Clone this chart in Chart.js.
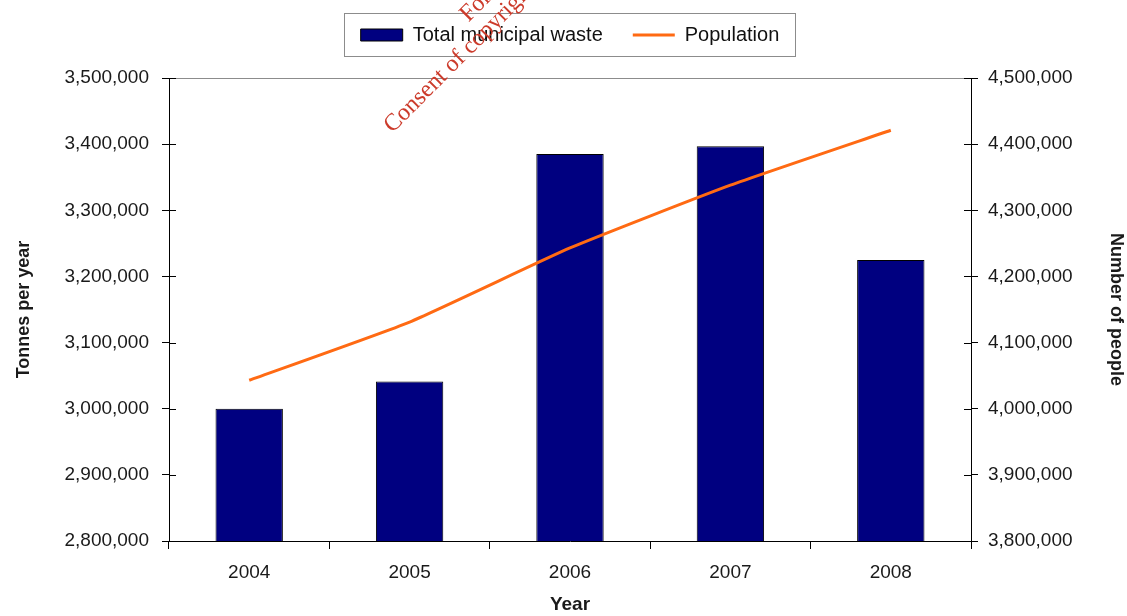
<!DOCTYPE html>
<html>
<head>
<meta charset="utf-8">
<script src="https://cdn.jsdelivr.net/npm/chart.js@4/dist/chart.umd.min.js"></script>
<style>
  html, body { margin: 0; padding: 0; background: #fff; }
  #wrap { width: 1127px; height: 616px; }
</style>
</head>
<body>
<div id="wrap"><canvas id="chart"></canvas></div>
<script>
/* Data */

const years = ['2004', '2005', '2006', '2007', '2008']
const wasteTonnes = [3000000, 3041000, 3385000, 3397000, 3225000]
const population = [4043000, 4131000, 4243000, 4338000, 4421000]

const wasteTicks = [2800000, 3500000, 100000]   // min, max, step
const peopleTicks = [3800000, 4500000, 100000]

const fmt = v => Number(v).toLocaleString('en-US')

/* Plugins */

// box round the legend + top border of the plot area
const frame = {
  id: 'frame',
  afterDraw(chart) {
    const ctx = chart.ctx
    const area = chart.chartArea
    const boxes = chart.legend.legendHitBoxes

    ctx.save()
    ctx.strokeStyle = '#8c8c8c'
    ctx.lineWidth = 1
    ctx.beginPath()
    ctx.moveTo(area.left, area.top + 0.5)
    ctx.lineTo(area.right, area.top + 0.5)
    ctx.stroke()

    if (boxes.length) {
      const first = boxes[0]
      const last = boxes[boxes.length - 1]
      const x1 = first.left - 17
      const x2 = last.left + last.width + 15
      const y1 = first.top - 12
      const y2 = first.top + first.height + 11
      ctx.strokeRect(Math.round(x1) + 0.5, Math.round(y1) + 0.5, Math.round(x2 - x1), Math.round(y2 - y1))
    }

    // inner half of the y ticks (they cross the axis)
    ctx.strokeStyle = '#000'
    ;['y', 'y1'].forEach(id => {
      const scale = chart.scales[id]
      const x = id === 'y' ? area.left : area.right
      const dir = id === 'y' ? 1 : -1
      scale.ticks.forEach((t, i) => {
        const y = Math.round(scale.getPixelForTick(i)) + 0.5
        ctx.beginPath()
        ctx.moveTo(x, y)
        ctx.lineTo(x + dir * 7, y)
        ctx.stroke()
      })
    })
    ctx.restore()
  }
}

// watermark from the scanned page
const watermark = {
  id: 'watermark',
  afterDraw(chart) {
    const ctx = chart.ctx
    ctx.save()
    ctx.fillStyle = '#cc3b2b'
    ctx.font = '24px "Liberation Serif"'
    ctx.translate(388, 129)
    ctx.rotate(-Math.PI / 4)
    ctx.fillText('Consent of copyright owner required for any other use.', 0, 0)
    ctx.restore()

    ctx.save()
    ctx.fillStyle = '#cc3b2b'
    ctx.font = '24px "Liberation Serif"'
    ctx.translate(464, 18)
    ctx.rotate(-Math.PI / 4)
    ctx.fillText('For inspection purposes only.', 0, 0)
    ctx.restore()
  }
}

/* Chart */

Chart.defaults.font.family = '"Liberation Sans", Arial, sans-serif'
Chart.defaults.color = '#1a1a1a'

const ctx = document.querySelector('#chart').getContext('2d')
const wasteChart = new Chart(ctx, {
  type: 'bar',
  data: {
    labels: years,
    datasets: [{
      type: 'bar',
      label: 'Total municipal waste',
      data: wasteTonnes,
      yAxisID: 'y',
      backgroundColor: '#000080',
      borderColor: '#000',
      borderWidth: 1,
      barPercentage: 0.42,
      categoryPercentage: 1,
      pointStyle: 'rect',
      order: 1
    }, {
      type: 'line',
      label: 'Population',
      data: population,
      yAxisID: 'y1',
      borderColor: '#ff6a13',
      backgroundColor: '#ff6a13',
      borderWidth: 3,
      pointRadius: 0,
      tension: 0.15,
      pointStyle: 'line',
      order: 0
    }]
  },
  options: {
    responsive: true,
    maintainAspectRatio: false,
    animation: false,
    layout: { padding: { top: -5, left: 0, right: 0, bottom: 0 } },
    plugins: {
      tooltip: { enabled: false },
      legend: {
        position: 'top',
        fullSize: false,
        labels: {
          usePointStyle: true,
          pointStyleWidth: 42,
          boxHeight: 12,
          padding: 30,
          color: '#111',
          font: { size: 20 },
          sort: (a, b) => a.datasetIndex - b.datasetIndex
        }
      },
      // empty spacer between legend and plot
      subtitle: {
        display: true,
        text: ' ',
        position: 'top',
        weight: 100,
        font: { size: 10 },
        padding: { top: 0, bottom: 11 }
      }
    },
    scales: {
      x: {
        grid: { display: true, drawOnChartArea: false, offset: true, tickLength: 8, color: '#000' },
        border: { display: true, color: '#000' },
        ticks: { padding: 12, font: { size: 19 }, color: '#1a1a1a' },
        title: { display: true, text: 'Year', font: { size: 19, weight: 'bold' }, padding: { top: 0, bottom: 0 } },
        afterFit: s => { s.height = 75 }
      },
      y: {
        position: 'left',
        min: wasteTicks[0],
        max: wasteTicks[1],
        grid: { drawOnChartArea: false, tickLength: 7, color: '#000' },
        border: { display: true, color: '#000' },
        ticks: { stepSize: wasteTicks[2], padding: 13, font: { size: 19 }, color: '#1a1a1a', callback: fmt },
        title: { display: true, text: 'Tonnes per year', font: { size: 18, weight: 'bold' }, padding: { top: 13, bottom: 0 } },
        afterFit: s => { s.width = 169 }
      },
      y1: {
        position: 'right',
        min: peopleTicks[0],
        max: peopleTicks[1],
        grid: { drawOnChartArea: false, tickLength: 7, color: '#000' },
        border: { display: true, color: '#000' },
        ticks: { stepSize: peopleTicks[2], padding: 10, font: { size: 19 }, color: '#1a1a1a', callback: fmt },
        title: { display: true, text: 'Number of people', font: { size: 18, weight: 'bold' }, padding: { top: 0, bottom: 0 } },
        afterFit: s => { s.width = 156 }
      }
    }
  },
  plugins: [frame, watermark]
})
</script>
</body>
</html>
